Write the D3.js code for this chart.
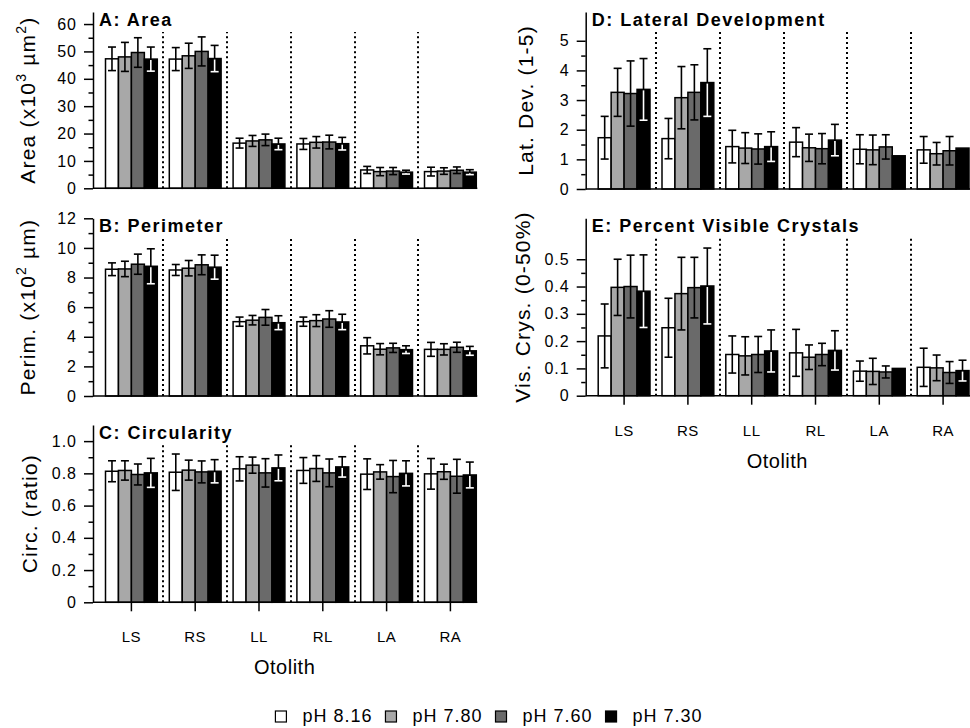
<!DOCTYPE html>
<html>
<head>
<meta charset="utf-8">
<script src="https://d3js.org/d3.v7.min.js"></script>
<style>
body { margin: 0; background: #fff; }
svg text { font-family: "Liberation Sans", Arial, Helvetica, sans-serif; fill: #000; }
.tick text { font-size: 16px; letter-spacing: 1px; }
.title { font-size: 18px; font-weight: bold; letter-spacing: 1.5px; }
.ylab { font-size: 21px; letter-spacing: 1.2px; }
.xlab { font-size: 15px; letter-spacing: 0.5px; }
.xtitle { font-size: 20px; letter-spacing: 0.5px; }
.legend text { font-size: 18px; letter-spacing: 1px; }
</style>
</head>
<body>
<svg id="chart" width="970" height="728"></svg>
<script>

// categories
var otoliths = ["LS", "RS", "LL", "RL", "LA", "RA"];
var phLevels = ["pH 8.16", "pH 7.80", "pH 7.60", "pH 7.30"];

// one row per pH level, one column per otolith
var areaMean = [
  [47.3, 47.2, 16.5, 16.2, 6.7, 6.1],
  [48.0, 48.4, 17.3, 16.8, 6.1, 6.3],
  [49.6, 50.0, 17.7, 16.9, 6.3, 6.6],
  [47.2, 47.4, 16.2, 16.3, 5.9, 5.9]];
var areaErr = [
  [4.3, 4.2, 1.8, 2.0, 1.3, 1.6],
  [5.3, 4.6, 2.0, 2.1, 1.5, 1.2],
  [5.4, 5.3, 2.1, 2.5, 1.3, 1.2],
  [4.4, 4.8, 2.1, 2.3, 0.7, 0.9]];

var perimMean = [
  [8.56, 8.51, 5.02, 5.02, 3.39, 3.15],
  [8.58, 8.63, 5.12, 5.09, 3.16, 3.15],
  [8.90, 8.86, 5.31, 5.20, 3.25, 3.29],
  [8.76, 8.70, 4.95, 5.00, 3.13, 3.05]];
var perimErr = [
  [0.43, 0.37, 0.31, 0.31, 0.55, 0.47],
  [0.52, 0.52, 0.32, 0.40, 0.38, 0.38],
  [0.68, 0.67, 0.53, 0.56, 0.31, 0.34],
  [1.18, 0.81, 0.47, 0.52, 0.26, 0.30]];

var circMean = [
  [0.813, 0.807, 0.828, 0.818, 0.795, 0.797],
  [0.818, 0.820, 0.851, 0.830, 0.809, 0.810],
  [0.793, 0.809, 0.803, 0.803, 0.780, 0.782],
  [0.803, 0.813, 0.834, 0.840, 0.800, 0.790]];
var circErr = [
  [0.065, 0.113, 0.075, 0.080, 0.095, 0.095],
  [0.060, 0.062, 0.050, 0.080, 0.045, 0.047],
  [0.065, 0.068, 0.088, 0.086, 0.100, 0.105],
  [0.090, 0.072, 0.080, 0.063, 0.078, 0.080]];

var latMean = [
  [1.73, 1.70, 1.43, 1.58, 1.34, 1.32],
  [3.26, 3.08, 1.38, 1.39, 1.32, 1.19],
  [3.22, 3.26, 1.35, 1.36, 1.42, 1.29],
  [3.36, 3.59, 1.43, 1.65, 1.12, 1.38]];
var latErr = [
  [0.72, 0.68, 0.55, 0.49, 0.49, 0.45],
  [0.81, 1.05, 0.52, 0.46, 0.50, 0.38],
  [1.10, 0.93, 0.51, 0.51, 0.41, 0.48],
  [1.04, 1.14, 0.50, 0.53, 0, 0]];

var visMean = [
  [0.219, 0.249, 0.151, 0.157, 0.090, 0.104],
  [0.397, 0.374, 0.146, 0.141, 0.089, 0.102],
  [0.400, 0.396, 0.151, 0.151, 0.087, 0.085],
  [0.383, 0.402, 0.164, 0.166, 0.100, 0.092]];
var visErr = [
  [0.117, 0.108, 0.068, 0.086, 0.037, 0.070],
  [0.103, 0.133, 0.070, 0.045, 0.048, 0.047],
  [0.115, 0.111, 0.066, 0.041, 0.022, 0.040],
  [0.133, 0.139, 0.077, 0.072, 0, 0.038]];

// y tick labels
var areaTicks = [0, 10, 20, 30, 40, 50, 60];
var perimTicks = [0, 2, 4, 6, 8, 10, 12];
var circTicks = [0, 0.2, 0.4, 0.6, 0.8, 1.0];
var latTicks = [0, 1, 2, 3, 4, 5];
var visTicks = [0, 0.1, 0.2, 0.3, 0.4, 0.5];

var fills = ["#ffffff", "#a8a8a8", "#6a6a6a", "#000000"];
var dec = function(d) { return d === 0 ? "0" : d3.format(".1f")(d); };

var panels = [
  {title: "A: Area", mean: areaMean, err: areaErr, ticks: areaTicks, ymax: 64.4,
   left: 93, top: 12, bottom: 188.3, labX: -58, fmt: d3.format("d"), xaxis: false,
   ylab: [["Area (x10"], ["3", 1], [" \u00b5m"], ["2", 1], [")"]]},
  {title: "B: Perimeter", mean: perimMean, err: perimErr, ticks: perimTicks, ymax: 12,
   left: 93, top: 218.3, bottom: 396, labX: -58, fmt: d3.format("d"), xaxis: false,
   ylab: [["Perim. (x10"], ["2", 1], [" \u00b5m)"]]},
  {title: "C: Circularity", mean: circMean, err: circErr, ticks: circTicks, ymax: 1.1,
   left: 93, top: 425, bottom: 602.3, labX: -56, fmt: dec, xaxis: true,
   ylab: [["Circ. (ratio)"]]},
  {title: "D: Lateral Development", mean: latMean, err: latErr, ticks: latTicks, ymax: 5.97,
   left: 585.7, top: 12, bottom: 189, labX: -53, fmt: d3.format("d"), xaxis: false,
   ylab: [["Lat. Dev. (1-5)"]]},
  {title: "E: Percent Visible Crystals", mean: visMean, err: visErr, ticks: visTicks, ymax: 0.65,
   left: 585.7, top: 218.3, bottom: 395.7, labX: -56, fmt: dec, xaxis: true,
   ylab: [["Vis. Crys. (0-50%)"]]}
];

var svg = d3.select("#chart");
var step = 63.8, gap = 12;

function drawPanel(p) {
  var g = svg.append("g");

  var y = d3.scaleLinear().domain([0, p.ymax]).range([p.bottom, p.top]);
  var x = d3.scaleBand().domain(otoliths)
    .range([p.left + 6.5, p.left + 6.5 + step * otoliths.length])
    .paddingInner(gap / step).paddingOuter(gap / 2 / step);
  var xs = d3.scaleBand().domain(phLevels).range([0, x.bandwidth()]);
  var xEnd = x(otoliths[otoliths.length - 1]) + x.bandwidth();

  // dotted separators between otoliths
  g.selectAll("line.sep").data(otoliths.slice(1)).enter().append("line")
    .attr("x1", function(d) { return Math.round(x(d) - gap / 2); })
    .attr("x2", function(d) { return Math.round(x(d) - gap / 2); })
    .attr("y1", y(0)).attr("y2", p.top + 20)
    .attr("stroke", "#000").attr("stroke-width", 2)
    .attr("stroke-dasharray", "2,3");

  var rows = [];
  otoliths.forEach(function(o, i) {
    phLevels.forEach(function(ph, j) {
      rows.push({o: o, ph: ph, j: j, m: p.mean[j][i], e: p.err[j][i]});
    });
  });

  g.selectAll("rect.bar").data(rows).enter().append("rect")
    .attr("x", function(d) { return x(d.o) + xs(d.ph); })
    .attr("y", function(d) { return y(d.m); })
    .attr("width", xs.bandwidth())
    .attr("height", function(d) { return y(0) - y(d.m); })
    .attr("fill", function(d) { return fills[d.j]; })
    .attr("stroke", "#000").attr("stroke-width", 1.5);

  // error bars, white where they run inside a black bar
  g.selectAll("g.err").data(rows.filter(function(d) { return d.e > 0; }))
    .enter().append("g")
    .each(function(d) {
      var s = d3.select(this);
      var cx = x(d.o) + xs(d.ph) + xs.bandwidth() / 2;
      var hi = y(d.m + d.e), lo = y(d.m - d.e);
      s.append("line").attr("x1", cx).attr("x2", cx).attr("y1", hi).attr("y2", lo);
      s.append("line").attr("x1", cx - 4).attr("x2", cx + 4).attr("y1", hi).attr("y2", hi);
      s.append("line").attr("x1", cx - 4).attr("x2", cx + 4).attr("y1", lo).attr("y2", lo);
      s.selectAll("line").attr("stroke", "#000").attr("stroke-width", 1.6);
      if (d.j === 3) {
        s.append("line").attr("x1", cx).attr("x2", cx).attr("y1", y(d.m) + 1).attr("y2", lo)
          .attr("stroke", "#fff").attr("stroke-width", 1.6);
        s.append("line").attr("x1", cx - 4).attr("x2", cx + 4).attr("y1", lo).attr("y2", lo)
          .attr("stroke", "#fff").attr("stroke-width", 1.6);
      }
    });

  // baseline
  g.append("line").attr("x1", p.left).attr("x2", xEnd + 1)
    .attr("y1", y(0)).attr("y2", y(0))
    .attr("stroke", "#000").attr("stroke-width", 1.5);

  // y axis, labelled and minor ticks
  var minor = [];
  for (var k = 1; k < p.ticks.length; k++) minor.push((p.ticks[k - 1] + p.ticks[k]) / 2);

  var ax = svg.append("g").attr("transform", "translate(" + p.left + ",0)")
    .call(d3.axisLeft(y).tickValues(p.ticks).tickSize(9).tickSizeOuter(0)
      .tickPadding(7).tickFormat(p.fmt));
  ax.selectAll("path, line").attr("stroke-width", 1.5);

  var axm = svg.append("g").attr("transform", "translate(" + p.left + ",0)")
    .call(d3.axisLeft(y).tickValues(minor).tickSize(4.5).tickFormat(""));
  axm.select(".domain").remove();
  axm.selectAll("line").attr("stroke-width", 1.5);

  // panel title
  svg.append("text").attr("class", "title")
    .attr("x", p.left + 6).attr("y", p.top + 14)
    .text(p.title);

  // y axis title with superscripts
  var yl = svg.append("text").attr("class", "ylab")
    .attr("text-anchor", "middle")
    .attr("transform", "translate(" + (p.left + p.labX) + "," + ((p.top + p.bottom) / 2) + ") rotate(-90)");
  var raised = false;
  p.ylab.forEach(function(part) {
    var t = yl.append("tspan").text(part[0]);
    if (part[1]) { t.attr("dy", -9).attr("font-size", 14); raised = true; }
    else if (raised) { t.attr("dy", 9); raised = false; }
  });

  if (p.xaxis) {
    g.selectAll("line.xt").data(otoliths).enter().append("line")
      .attr("x1", function(d) { return x(d) + x.bandwidth() / 2; })
      .attr("x2", function(d) { return x(d) + x.bandwidth() / 2; })
      .attr("y1", y(0)).attr("y2", y(0) + 9)
      .attr("stroke", "#000").attr("stroke-width", 1.5);
    g.selectAll("text.xlab").data(otoliths).enter().append("text")
      .attr("class", "xlab")
      .attr("x", function(d) { return x(d) + x.bandwidth() / 2; })
      .attr("y", y(0) + 40)
      .attr("text-anchor", "middle")
      .text(function(d) { return d; });
    g.append("text").attr("class", "xtitle")
      .attr("x", (p.left + xEnd) / 2).attr("y", y(0) + 72)
      .attr("text-anchor", "middle")
      .text("Otolith");
  }
}

panels.forEach(drawPanel);

// legend
var leg = svg.append("g").attr("class", "legend");
var cursor = 0;
phLevels.forEach(function(ph, j) {
  leg.append("rect").attr("x", cursor).attr("y", -11).attr("width", 11).attr("height", 11)
    .attr("fill", fills[j]).attr("stroke", "#000").attr("stroke-width", 1.2);
  var t = leg.append("text").attr("x", cursor + 27).attr("y", 0).text(ph);
  cursor += 27 + t.node().getComputedTextLength() + 13;
});
leg.attr("transform", "translate(" + (489 - (cursor - 13) / 2) + ",722)");

</script>
</body>
</html>
